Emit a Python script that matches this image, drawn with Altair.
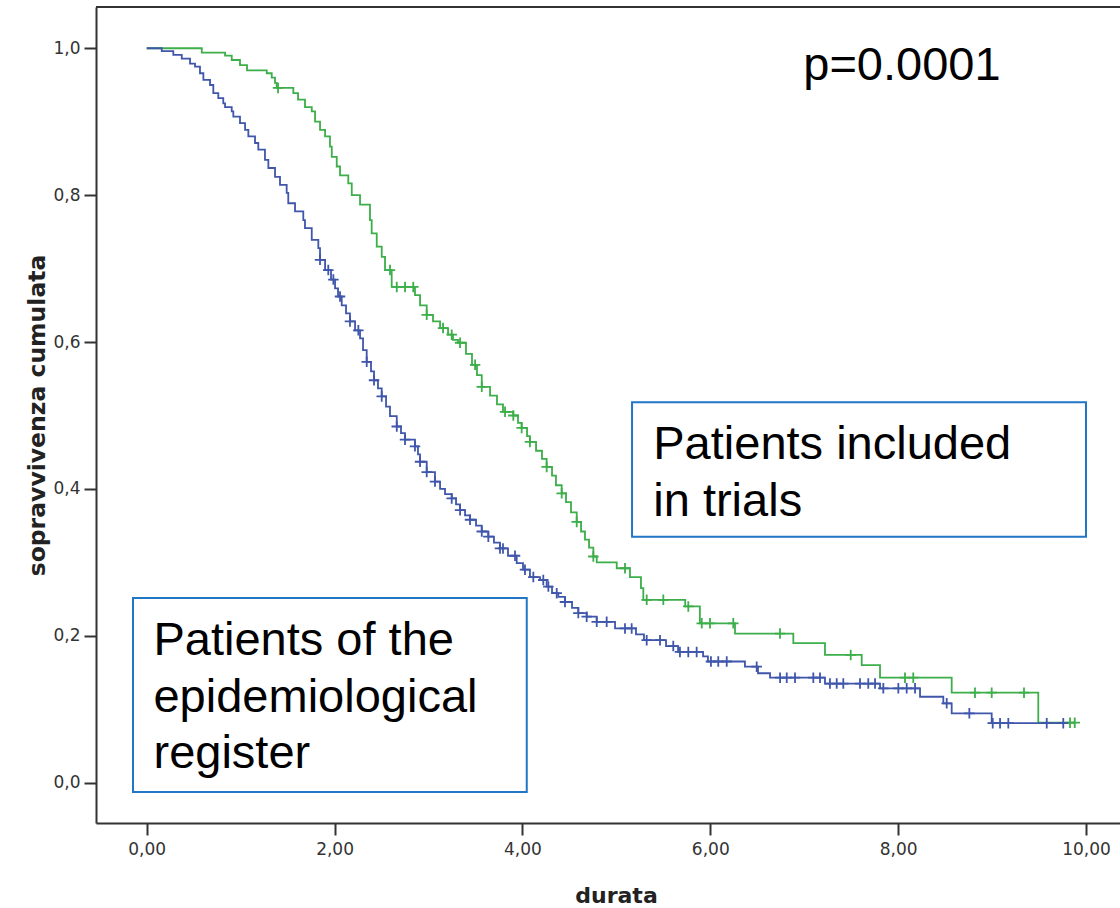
import bisect
import altair as alt
import pandas as pd

# ---- Kaplan-Meier data ----
# Patients included in trials (green): event times and survival after each step
green_t = [0.0, 0.586, 0.834, 0.905, 0.993, 1.068, 1.278, 1.331, 1.366, 1.384, 1.561, 1.611,
           1.685, 1.757, 1.792, 1.845, 1.899, 1.951, 1.970, 2.023, 2.058, 2.146, 2.183, 2.271,
           2.377, 2.395, 2.449, 2.502, 2.537, 2.608, 2.856, 2.910, 2.981, 3.048, 3.123, 3.208,
           3.261, 3.314, 3.399, 3.463, 3.516, 3.567, 3.655, 3.729, 3.793, 3.903, 3.953, 3.992,
           4.049, 4.080, 4.145, 4.208, 4.258, 4.315, 4.357, 4.418, 4.464, 4.517, 4.578, 4.624,
           4.666, 4.709, 4.755, 4.791, 5.004, 5.145, 5.262, 5.287, 5.733, 5.889, 6.263, 6.884,
           7.221, 7.612, 7.807, 8.570, 9.492]
green_s = [1.000, 0.994, 0.990, 0.984, 0.977, 0.970, 0.966, 0.960, 0.953, 0.946, 0.939, 0.930,
           0.920, 0.914, 0.900, 0.889, 0.880, 0.866, 0.852, 0.839, 0.827, 0.816, 0.800, 0.787,
           0.766, 0.748, 0.730, 0.716, 0.698, 0.675, 0.664, 0.650, 0.637, 0.628, 0.619, 0.610,
           0.603, 0.599, 0.584, 0.569, 0.555, 0.539, 0.527, 0.515, 0.505, 0.500, 0.490, 0.483,
           0.472, 0.464, 0.452, 0.441, 0.430, 0.418, 0.405, 0.394, 0.382, 0.368, 0.355, 0.342,
           0.331, 0.320, 0.308, 0.300, 0.292, 0.280, 0.265, 0.249, 0.240, 0.217, 0.203, 0.190,
           0.174, 0.160, 0.143, 0.1226, 0.0817]
green_end = 9.88
green_cens = [1.398, 2.590, 2.662, 2.750, 2.838, 2.981, 3.155, 3.247, 3.336, 3.496, 3.567,
              3.815, 3.903, 3.992, 4.080, 4.258, 4.418, 4.578, 4.755, 5.092, 5.323, 5.500,
              5.766, 5.909, 5.997, 6.245, 6.742, 7.495, 8.073, 8.161, 8.818, 8.996, 9.340,
              9.830, 9.880]

# Patients of the epidemiological register (blue)
blue_t = [0.0, 0.160, 0.283, 0.373, 0.461, 0.514, 0.567, 0.603, 0.674, 0.709, 0.762, 0.815,
          0.834, 0.905, 0.922, 0.993, 1.047, 1.082, 1.153, 1.188, 1.259, 1.295, 1.366, 1.419,
          1.490, 1.507, 1.579, 1.667, 1.685, 1.757, 1.827, 1.845, 1.899, 1.962, 2.005, 2.037,
          2.076, 2.122, 2.164, 2.218, 2.271, 2.303, 2.342, 2.388, 2.420, 2.462, 2.502, 2.548,
          2.590, 2.662, 2.707, 2.750, 2.856, 2.888, 2.910, 2.981, 3.069, 3.123, 3.176, 3.247,
          3.293, 3.336, 3.389, 3.442, 3.506, 3.567, 3.637, 3.697, 3.761, 3.846, 3.939, 4.006,
          4.080, 4.187, 4.258, 4.315, 4.382, 4.453, 4.528, 4.595, 4.684, 4.791, 4.986, 5.209,
          5.294, 5.529, 5.657, 5.923, 5.975, 6.369, 6.508, 6.636, 7.221, 7.807, 8.233, 8.481,
          8.570, 8.996]
blue_s = [1.000, 0.996, 0.991, 0.986, 0.979, 0.975, 0.966, 0.957, 0.950, 0.939, 0.932, 0.925,
          0.920, 0.914, 0.907, 0.898, 0.889, 0.880, 0.871, 0.862, 0.848, 0.837, 0.825, 0.814,
          0.803, 0.789, 0.778, 0.766, 0.755, 0.739, 0.728, 0.712, 0.698, 0.685, 0.673, 0.662,
          0.650, 0.639, 0.628, 0.616, 0.605, 0.589, 0.573, 0.560, 0.548, 0.537, 0.526, 0.512,
          0.499, 0.485, 0.476, 0.467, 0.458, 0.447, 0.437, 0.423, 0.410, 0.400, 0.393, 0.387,
          0.379, 0.371, 0.364, 0.358, 0.350, 0.342, 0.335, 0.327, 0.319, 0.309, 0.299, 0.290,
          0.280, 0.276, 0.267, 0.258, 0.253, 0.246, 0.238, 0.231, 0.226, 0.219, 0.210, 0.202,
          0.194, 0.186, 0.178, 0.172, 0.165, 0.158, 0.149, 0.143, 0.135, 0.1285, 0.117, 0.108,
          0.0945, 0.081]
blue_end = 9.79
blue_cens = [1.845, 1.933, 1.987, 2.058, 2.164, 2.253, 2.342, 2.420, 2.502, 2.662, 2.750,
             2.856, 2.910, 2.981, 3.069, 3.247, 3.336, 3.442, 3.567, 3.637, 3.761, 3.793,
             3.921, 4.027, 4.116, 4.222, 4.276, 4.365, 4.453, 4.595, 4.684, 4.791, 4.897,
             5.092, 5.163, 5.323, 5.465, 5.606, 5.677, 5.766, 5.855, 6.007, 6.085, 6.175,
             6.494, 6.743, 6.814, 6.902, 7.097, 7.168, 7.274, 7.346, 7.416, 7.594, 7.682,
             7.754, 7.842, 8.002, 8.091, 8.180, 8.517, 8.758, 9.007, 9.085, 9.173, 9.582,
             9.758]

groups = ["trials", "register"]
colors = ["#3cae4a", "#3f56ab"]

# annotation texts and boxes (data coordinates)
ann_text = ["p=0.0001", "Patients included", "in trials",
            "Patients of the", "epidemiological", "register"]
ann_x = [6.990, 5.393, 5.393, 0.072, 0.072, 0.072]
ann_y = [0.9568, 0.4408, 0.3632, 0.1739, 0.0967, 0.0196]
box_x0 = [5.167, -0.146]
box_x1 = [10.0, 4.046]
box_y0 = [0.335, -0.0127]
box_y1 = [0.518, 0.2515]

# ---- tables ----
def steps(ts, ss, end, name):
    rows = [{"t": t, "s": s, "g": name} for t, s in zip(ts, ss)]
    rows.append({"t": end, "s": ss[-1], "g": name})
    return rows

def censors(ts, ss, cens, name):
    out = []
    for c in cens:
        i = bisect.bisect_right(ts, c) - 1
        out.append({"t": c, "s": ss[i], "g": name})
    return out

line_df = pd.DataFrame(steps(green_t, green_s, green_end, groups[0]) +
                       steps(blue_t, blue_s, blue_end, groups[1]))
cens_df = pd.DataFrame(censors(green_t, green_s, green_cens, groups[0]) +
                       censors(blue_t, blue_s, blue_cens, groups[1]))
text_df = pd.DataFrame({"x": ann_x, "y": ann_y, "label": ann_text})
box_df = pd.DataFrame({"x0": box_x0, "x1": box_x1, "y0": box_y0, "y1": box_y1})

W, H = 1024, 816
xscale = alt.Scale(domain=[-0.54, 10.362], nice=False, zero=False)
yscale = alt.Scale(domain=[-0.0549, 1.0562], nice=False, zero=False)

AX = "#333333"
xaxis = alt.Axis(values=[0, 2, 4, 6, 8, 10],
                 labelExpr="replace(format(datum.value, '.2f'), '.', ',')",
                 grid=False, tickSize=12, tickWidth=2, tickColor=AX,
                 domainColor=AX, domainWidth=2,
                 labelFont="DejaVu Sans", labelFontSize=17, labelColor=AX,
                 labelPadding=6, labelFlush=False, labelOverlap=False,
                 title="durata", titleFont="DejaVu Sans", titleFontSize=22,
                 titleFontWeight="bold", titleColor="#222222",
                 titleX=520, titleY=79, titleBaseline="alphabetic", titleAlign="center")
yaxis = alt.Axis(values=[0, 0.2, 0.4, 0.6, 0.8, 1.0],
                 labelExpr="replace(format(datum.value, '.1f'), '.', ',')",
                 grid=False, tickSize=12, tickWidth=2, tickColor=AX,
                 domainColor=AX, domainWidth=2,
                 labelFont="DejaVu Sans", labelFontSize=17, labelColor=AX,
                 labelPadding=4, labelFlush=False, labelOverlap=False,
                 title="sopravvivenza cumulata", titleFont="DejaVu Sans", titleFontSize=23.5,
                 titleFontWeight="bold", titleColor="#222222",
                 titleX=-52, titleY=408, titleAngle=-90,
                 titleBaseline="alphabetic", titleAlign="center")

color = alt.Color("g:N", scale=alt.Scale(domain=groups, range=colors), legend=None)

lines = alt.Chart(line_df).mark_line(interpolate="step-after", strokeWidth=1.8).encode(
    x=alt.X("t:Q", scale=xscale, axis=xaxis),
    y=alt.Y("s:Q", scale=yscale, axis=yaxis),
    color=color,
)

marks = alt.Chart(cens_df).mark_point(
    shape="M-1,0H1M0,-1V1", filled=False, strokeWidth=1.8, size=110, opacity=1
).encode(
    x=alt.X("t:Q", scale=xscale, axis=xaxis),
    y=alt.Y("s:Q", scale=yscale, axis=yaxis),
    color=color,
)

boxes = alt.Chart(box_df).mark_rect(fill="white", stroke="#2176c6", strokeWidth=2).encode(
    x=alt.X("x0:Q", scale=xscale, axis=xaxis), x2="x1:Q",
    y=alt.Y("y0:Q", scale=yscale, axis=yaxis), y2="y1:Q",
)

texts = alt.Chart(text_df).mark_text(
    align="left", baseline="alphabetic", font="Liberation Sans", fontSize=47, color="black"
).encode(
    x=alt.X("x:Q", scale=xscale, axis=xaxis),
    y=alt.Y("y:Q", scale=yscale, axis=yaxis),
    text="label:N",
)

frame_top = alt.Chart(pd.DataFrame({"a": [0]})).mark_rule(color=AX, strokeWidth=2).encode(
    x=alt.value(0), x2=alt.value(W), y=alt.value(0)
)

chart = alt.layer(lines, marks, boxes, texts, frame_top).properties(
    width=W, height=H,
    autosize=alt.AutoSizeParams(type="none"),
    padding={"left": 96, "top": 7, "right": 0, "bottom": 85},
    background="white",
).configure_view(stroke=None)

chart.save("out.html", embed_options={"renderer": "svg", "actions": False})
